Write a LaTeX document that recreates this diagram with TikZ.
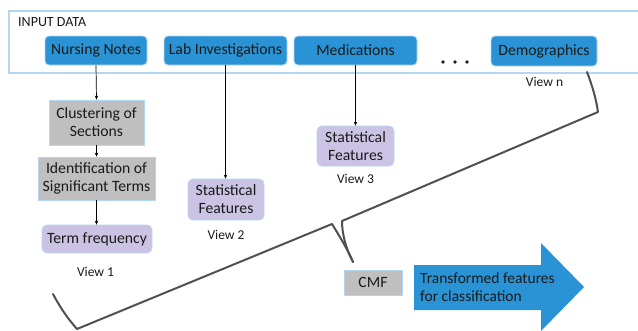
\documentclass[tikz,border=0pt]{standalone}
\usepackage{fontspec}
\setmainfont{Carlito}
\usetikzlibrary{arrows.meta}
\definecolor{boxblue}{HTML}{2A93D5}
\definecolor{lav}{HTML}{CBC3E3}
\definecolor{grayb}{HTML}{BFBFBF}
\definecolor{edgeb}{HTML}{B3D6F2}
\definecolor{bracec}{HTML}{505050}
\definecolor{txt}{HTML}{1A1A1A}
\tikzset{
  base/.style={draw=edgeb, line width=0.8pt, inner sep=0pt, align=center, text=txt,
    font=\fontsize{15.7}{18}\selectfont},
  srcbox/.style={base, fill=boxblue, rounded corners=4pt},
  procbox/.style={base, fill=grayb},
  featbox/.style={base, fill=lav, rounded corners=5pt},
  viewlbl/.style={inner sep=0pt, text=txt, font=\fontsize{13.5}{16}\selectfont},
  link/.style={draw=black, line width=0.7pt, -{Stealth[length=4pt,width=3.5pt]}},
  bracel/.style={draw=bracec, line width=2pt, line join=round, line cap=round}
}
\begin{document}
\begin{tikzpicture}[x=1pt,y=-1pt]
\useasboundingbox (0,0) rectangle (638,330);
% input data frame
\draw[edgeb, line width=1.2pt] (645,11) -- (9,11) -- (9,73) -- (645,73);
\node[anchor=west, inner sep=0pt, text=txt, font=\fontsize{14}{16}\selectfont] (inp) at (18,22) {INPUT DATA};
% sources
\node[srcbox, minimum width=102pt, minimum height=29pt] (nn) at (96,50.5) {Nursing Notes};
\node[srcbox, minimum width=123pt, minimum height=29pt] (lab) at (225.5,50.5) {Lab Investigations};
\node[srcbox, minimum width=123pt, minimum height=29pt] (med) at (355.5,50.5) {Medications};
\node[srcbox, minimum width=106pt, minimum height=30pt] (demo) at (544,51) {Demographics};
\fill[txt] (443,62) circle (1.9) (455,62) circle (1.9) (467,62) circle (1.9);
\node[viewlbl] (vn) at (544.5,82) {View n};
% view 1 pipeline
\node[procbox, minimum width=95pt, minimum height=45pt] (clus) at (96.5,122.5) {Clustering of\\Sections};
\node[procbox, minimum width=117pt, minimum height=43pt] (ident) at (96.5,178.5) {Identification of\\Significant Terms};
\node[featbox, minimum width=110pt, minimum height=28pt] (tf) at (97,239) {Term frequency};
\node[viewlbl] (v1) at (95.5,272) {View 1};
% view 2
\node[featbox, minimum width=76pt, minimum height=41pt] (sf2) at (226,199.5) {Statistical\\Features};
\node[viewlbl] (v2) at (226,235) {View 2};
% view 3
\node[featbox, minimum width=77pt, minimum height=40pt] (sf3) at (355.5,146) {Statistical\\Features};
\node[viewlbl] (v3) at (355.5,179) {View 3};
% connectors
\draw[link] (nn.south) -- (clus.north);
\draw[link] (clus.south) -- (ident.north);
\draw[link] (ident.south) -- (ident.south |- tf.north);
\draw[link] (lab.south) -- (lab.south |- sf2.north);
\draw[link] (med.south) -- (sf3.north);
% CMF
\node[procbox, minimum width=58pt, minimum height=25pt] (cmf) at (373,282.5) {CMF};
% brace
\coordinate (bl) at (53,294);
\coordinate (bc) at (77,329);
\coordinate (bp) at (332,224);
\coordinate (bt) at (353,262);
\coordinate (bq) at (342,221);
\coordinate (bd) at (598,112);
\coordinate (br) at (587,72);
\draw[bracel] (bl) .. controls (62,311) and (70,321) .. (bc) -- (bp) .. controls (340,237) and (348,250) .. (bt);
\draw[bracel] (bt) .. controls (346,249) and (342,234) .. (bq) -- (bd) .. controls (596,98) and (592,85) .. (br);
% big arrow
\fill[boxblue] (414,265) -- (541,265) -- (541,243) -- (584,287) -- (541,331) -- (541,310) -- (414,310) -- cycle;
\node[anchor=west, inner sep=0pt, align=left, text=txt, font=\fontsize{15.5}{17.5}\selectfont] (tfc) at (420,287) {Transformed features\\for classification};
\end{tikzpicture}
\end{document}
